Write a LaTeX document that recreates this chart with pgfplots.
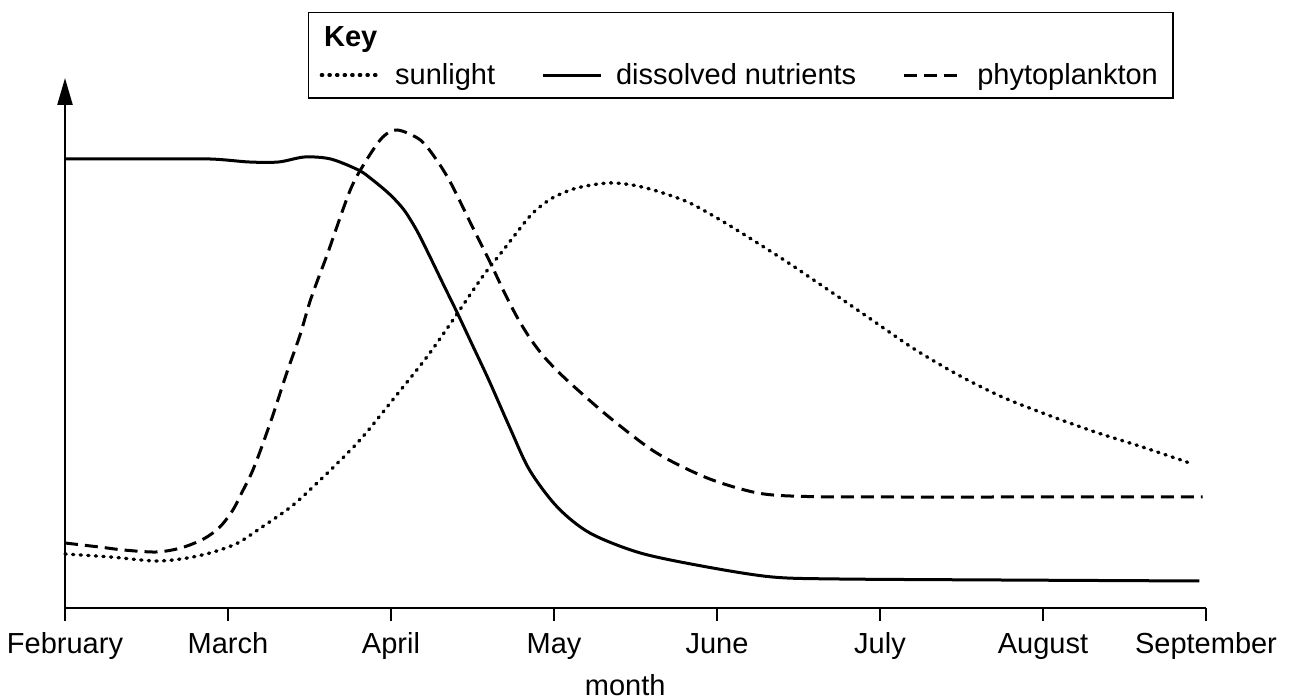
\documentclass[border=0pt]{standalone}
\usepackage{fontspec}
\setmainfont{Liberation Sans}
\usepackage{pgfplots}
\pgfplotsset{compat=1.18}
\usetikzlibrary{arrows.meta}
\newcommand\fs{\fontsize{14.5pt}{17pt}\selectfont}
\begin{document}
\begin{tikzpicture}[font=\fs]
\useasboundingbox (-32.5pt,-46pt) rectangle (612.5pt,304pt);
\begin{axis}[
  scale only axis, width=570.5pt, height=265pt,
  xmin=0, xmax=7, ymin=0, ymax=530,
  enlargelimits=false,
  axis x line=bottom, axis y line=left,
  x axis line style={-, line width=1.3pt},
  y axis line style={-{Triangle[length=13.5pt,width=7.5pt]}, line width=1.2pt},
  xtick={0,1,2,3,4,5,6,7},
  xticklabels={February,March,April,May,June,July,August,September},
  ytick=\empty,
  tick align=outside,
  major tick length=6.5pt,
  xtick style={line width=1pt, black},
  xticklabel style={anchor=base, yshift=-16.5pt, font=\fs},
  xlabel={month},
  xlabel style={at={(rel axis cs:0.491,0)}, anchor=base, yshift=-44pt, font=\fs},
  clip=false,
  legend columns=3,
  legend cell align=left,
  legend style={at={(rel axis cs:0.213,1.1245)}, anchor=north west, draw=black,
    line width=0.7pt, inner xsep=5.5pt, inner ysep=3.5pt, font=\fs, row sep=2.7pt,
    /tikz/every odd column/.append style={column sep=5pt},
    /tikz/every even column/.append style={column sep=21pt}},
  legend image code/.code={\draw[#1] (0pt,0pt) -- (29pt,0pt);},
]
\addlegendimage{empty legend}
\addlegendentry{\rlap{\hspace*{-35.5pt}\textbf{Key}}\rule{0pt}{11.5pt}}
\addlegendimage{empty legend}
\addlegendentry{\mbox{}}
\addlegendimage{empty legend}
\addlegendentry{\mbox{}}

\addplot[black, line width=1.7pt, line cap=round, dash pattern=on 0.6pt off 3.2pt, smooth] coordinates {
(0,54) (0.28,51) (0.56,47) (0.75,50) (0.91,56) (1.06,65) (1.20,80) (1.40,103)
(1.61,135) (1.81,168) (2.01,208) (2.22,251) (2.38,288) (2.56,331) (2.68,356)
(2.77,375) (2.87,395) (2.99,410) (3.14,420) (3.33,425) (3.48,423) (3.63,417)
(3.82,406) (4.00,390) (4.21,369) (4.43,346) (4.62,325) (4.80,305) (4.96,287)
(5.21,259) (5.48,233) (5.75,211) (6.03,193) (6.32,176) (6.61,161) (6.90,145)
};
\addlegendentry{sunlight}

\addplot[black, line width=1.5pt, smooth] coordinates {
(0,449) (0.5,449) (0.89,449) (1.13,446) (1.31,446) (1.47,451) (1.63,449)
(1.80,438) (1.88,429) (1.99,414) (2.08,398) (2.16,377) (2.24,351) (2.32,324)
(2.41,294) (2.505,261) (2.60,228) (2.73,180) (2.85,138) (3.02,101) (3.22,75)
(3.53,55) (3.94,41) (4.34,31) (4.75,29) (5.74,28) (6.96,27)
};
\addlegendentry{dissolved nutrients}

\addplot[black, line width=1.5pt, dash pattern=on 6.5pt off 3.5pt, smooth] coordinates {
(0,65) (0.21,61) (0.36,58) (0.56,56) (0.71,60) (0.85,69) (0.95,81) (1.03,98)
(1.09,117) (1.145,135) (1.20,158) (1.28,195) (1.36,235) (1.44,272) (1.50,305)
(1.55,328) (1.61,354) (1.75,418) (1.85,448) (1.95,471) (2.04,478) (2.18,468)
(2.28,448) (2.37,424) (2.50,381) (2.61,345) (2.70,314) (2.78,289) (2.86,268)
(2.94,251) (3.04,234) (3.16,216) (3.36,188) (3.63,155) (3.94,130) (4.25,115)
(4.55,111.5) (5.12,111) (5.8,111) (6.98,111)
};
\addlegendentry{phytoplankton}
\end{axis}
\end{tikzpicture}
\end{document}
